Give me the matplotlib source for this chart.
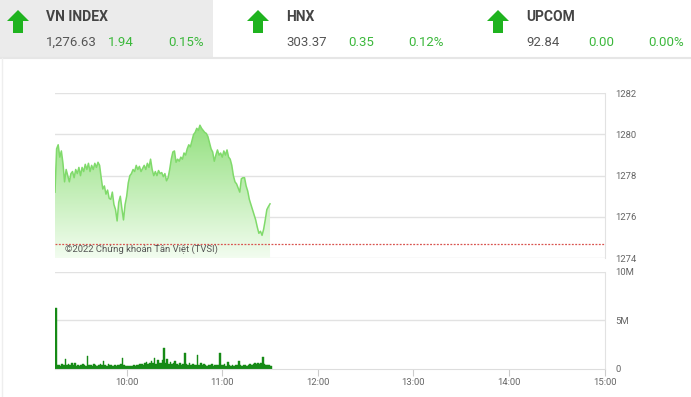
import matplotlib.pyplot as plt
from matplotlib.patches import Polygon, Rectangle
import numpy as np

# header quotes
idx_names = ["VN INDEX", "HNX", "UPCOM"]
idx_values = ["1,276.63", "303.37", "92.84"]
idx_change = ["1.94", "0.35", "0.00"]
idx_pct = ["0.15%", "0.12%", "0.00%"]

prev_close = 1274.69
start_min = 9 * 60 + 15  # 9:15, one point per minute

price = [1277.2, 1279.3, 1279.5, 1278.9, 1279.2, 1278.6, 1277.7, 1278.3, 1278.0, 1277.7,
         1278.1, 1278.2, 1277.9, 1278.3, 1278.1, 1278.4, 1278.0, 1278.4, 1278.2, 1278.55,
         1278.3, 1278.6, 1278.2, 1278.5, 1278.3, 1278.6, 1278.4, 1278.65, 1278.5, 1277.9,
         1277.35, 1277.5, 1277.1, 1277.3, 1276.9, 1276.85, 1277.2, 1276.6, 1276.35, 1275.8,
         1276.7, 1277.0, 1276.4, 1275.85, 1276.6, 1277.0, 1277.65, 1278.0, 1278.1, 1278.3,
         1278.2, 1278.5, 1278.3, 1278.45, 1278.2, 1278.35, 1278.5, 1278.3, 1278.6, 1278.4,
         1278.8, 1278.3, 1278.0, 1278.2, 1278.0, 1278.25, 1278.1, 1278.15, 1277.95, 1278.1,
         1277.75, 1277.9, 1278.3, 1278.8, 1279.15, 1279.2, 1278.65, 1278.8, 1278.7, 1278.9,
         1278.8, 1279.1, 1279.0, 1279.3, 1279.5, 1279.4, 1279.7, 1280.0, 1280.1, 1280.3,
         1280.2, 1280.45, 1280.3, 1280.2, 1280.1, 1280.05, 1279.9, 1279.6, 1279.3, 1279.15,
         1278.7, 1279.0, 1279.25, 1279.0, 1279.1, 1278.9, 1279.2, 1279.0, 1279.25, 1278.9,
         1278.8, 1278.5, 1278.0, 1277.7, 1277.6, 1277.4, 1277.2, 1277.85, 1277.9, 1277.9,
         1277.5, 1277.25, 1276.85, 1276.6, 1276.35, 1276.1, 1275.85, 1275.5, 1275.2, 1275.3,
         1275.1, 1275.4, 1275.85, 1276.35, 1276.5, 1276.63]

# volume in millions
volume = [6.3, 0.4, 0.35, 0.3, 0.45, 0.35, 0.95, 0.35, 0.5, 0.4, 0.6, 0.35, 0.55, 0.3, 0.35, 0.25, 0.4, 0.5, 0.35, 0.3,
          1.3, 0.35, 0.4, 0.3, 0.45, 0.35, 0.3, 0.4, 0.5, 0.35,
          0.8, 0.4, 0.3, 0.45, 0.35, 0.4, 0.25, 0.35, 0.3, 0.35,
          0.4, 0.45, 1.05, 0.35, 0.3, 0.25, 0.3, 0.3, 0.25, 0.35,
          0.3, 0.4, 0.35, 0.45, 0.5, 0.35, 0.55, 0.65, 0.45, 0.6,
          0.75, 0.55, 1.1, 0.5, 0.85, 0.6, 0.55, 0.9, 2.1, 0.55,
          1.0, 0.5, 0.65, 0.45, 0.55, 0.8, 0.45, 0.4, 0.55, 0.35,
          0.5, 1.6, 0.45, 0.4, 0.55, 0.35, 0.45, 0.4, 0.35, 1.4,
          0.4, 0.6, 0.35, 0.5, 0.35, 0.3, 0.4, 0.35, 0.45, 0.3,
          0.35, 0.4, 0.35, 1.6, 0.4, 0.35, 0.45, 0.3, 0.7, 0.35,
          0.25, 0.35, 0.3, 0.4, 0.35, 0.75, 0.35, 0.3, 0.4, 0.35,
          0.3, 0.35, 0.45, 0.4, 0.5, 0.55, 0.45, 0.6, 0.5, 0.55,
          1.2, 0.45, 0.35, 0.4, 0.35, 0.3]

hour_ticks = [10, 11, 12, 13, 14, 15]
price_ticks = [1274, 1276, 1278, 1280, 1282]
vol_ticks = [0, 5, 10]
vol_labels = ["0", "5M", "10M"]

W, H = 691, 397
tick_font = ["Roboto", "DejaVu Sans"]
head_font = ["Roboto", "DejaVu Sans"]
grid_c = "#e2e2e2"
label_c = "#666666"
green_txt = "#3cb83c"

times = start_min + np.arange(len(price))
x0, x1 = start_min, 15 * 60


def px_rect(l, t, r, b):
    return [l / W, 1 - b / H, (r - l) / W, (b - t) / H]


fig = plt.figure(figsize=(W / 100, H / 100), dpi=100)
fig.patch.set_facecolor("white")

# header overlay in pixel coords
bg = fig.add_axes([0, 0, 1, 1], zorder=0)
bg.set_xlim(0, W)
bg.set_ylim(H, 0)
bg.axis("off")
bg.add_patch(Rectangle((0, 0), 213, 57, color="#ebebeb", lw=0))
bg.plot([0, W], [57.5, 57.5], color="#e6e6e6", lw=1.5)
bg.plot([2, 2], [58, H], color="#eeeeee", lw=1)

col_x = [46, 286, 526]
for i in range(3):
    cx = col_x[i]
    ax_ = cx - 28
    arrow = [(ax_, 10), (ax_ + 11, 21), (ax_ + 5, 21), (ax_ + 5, 33), (ax_ - 5, 33), (ax_ - 5, 21), (ax_ - 11, 21)]
    bg.add_patch(Polygon(arrow, closed=True, color="#1fb31f", lw=0))
    bg.text(cx, 17, idx_names[i], fontsize=10, fontweight="bold", color="#444444",
            family=head_font, va="center", ha="left")
    bg.text(cx, 42, idx_values[i], fontsize=9.5, color="#555555", family=head_font, va="center", ha="left")
    bg.text(cx + 62, 42, idx_change[i], fontsize=9.5, color=green_txt, family=head_font, va="center", ha="left")
    bg.text(cx + 158, 42, idx_pct[i], fontsize=9.5, color=green_txt, family=head_font, va="center", ha="right")

# price panel
ax = fig.add_axes(px_rect(55, 93.3, 604.5, 258), zorder=2)
ax.patch.set_alpha(0)
ax.set_xlim(x0, x1)
ax.set_ylim(1274, 1282)
for v in price_ticks:
    ax.axhline(v, color=grid_c, lw=1, zorder=0)
for s in ["top", "left", "bottom"]:
    ax.spines[s].set_visible(False)
ax.spines["right"].set_color(grid_c)
ax.set_xticks([])
ax.yaxis.tick_right()
ax.set_yticks(price_ticks)
ax.set_yticklabels([str(v) for v in price_ticks], fontsize=6.8, color=label_c, family=tick_font)
ax.tick_params(axis="y", length=0, pad=8)

# gradient fill under the price line
poly = ax.fill_between(times, price, 1274, color="none", lw=0)
grad = np.linspace(0, 1, 256).reshape(-1, 1)
top_c = np.array([0.58, 0.88, 0.50])
bot_c = np.array([0.95, 0.99, 0.94])
img = bot_c + (top_c - bot_c) * grad
img = img[::-1]
im = ax.imshow(img.reshape(256, 1, 3), extent=[x0, times[-1], 1274, max(price)],
               aspect="auto", origin="upper", zorder=1)
im.set_clip_path(poly.get_paths()[0], transform=ax.transData)
ax.plot(times, price, color="#80da6b", lw=1.1, zorder=2)
ax.axhline(prev_close, color="#d9534f", lw=0.9, ls=(0, (1.5, 1.2)), zorder=3)
ax.text(start_min + 6, 1274.43, "©2022 Chứng khoán Tân Việt (TVSI)", fontsize=6.8,
        color="#555555", family=tick_font, va="center", zorder=4)

# volume panel
axv = fig.add_axes(px_rect(55, 271.7, 604.5, 368.5), zorder=2)
axv.patch.set_alpha(0)
axv.set_xlim(x0, x1)
axv.set_ylim(0, 10)
for v in vol_ticks[1:]:
    axv.axhline(v, color=grid_c, lw=1, zorder=0)
axv.bar(times, volume, width=1.0, color="#168a16", edgecolor="#168a16", lw=0.3,
        align="edge", zorder=2)
for s in ["top", "left"]:
    axv.spines[s].set_visible(False)
axv.spines["right"].set_color(grid_c)
axv.spines["bottom"].set_color("#dddddd")
axv.yaxis.tick_right()
axv.set_yticks(vol_ticks)
axv.set_yticklabels(vol_labels, fontsize=6.8, color=label_c, family=tick_font)
axv.tick_params(axis="y", length=0, pad=8)
axv.set_xticks([h * 60 for h in hour_ticks])
axv.set_xticklabels(["%d:00" % h for h in hour_ticks], fontsize=6.8, color=label_c, family=tick_font)
axv.tick_params(axis="x", length=5, color="#cccccc", pad=2)

fig.savefig("out.png", dpi=100, facecolor="white")
